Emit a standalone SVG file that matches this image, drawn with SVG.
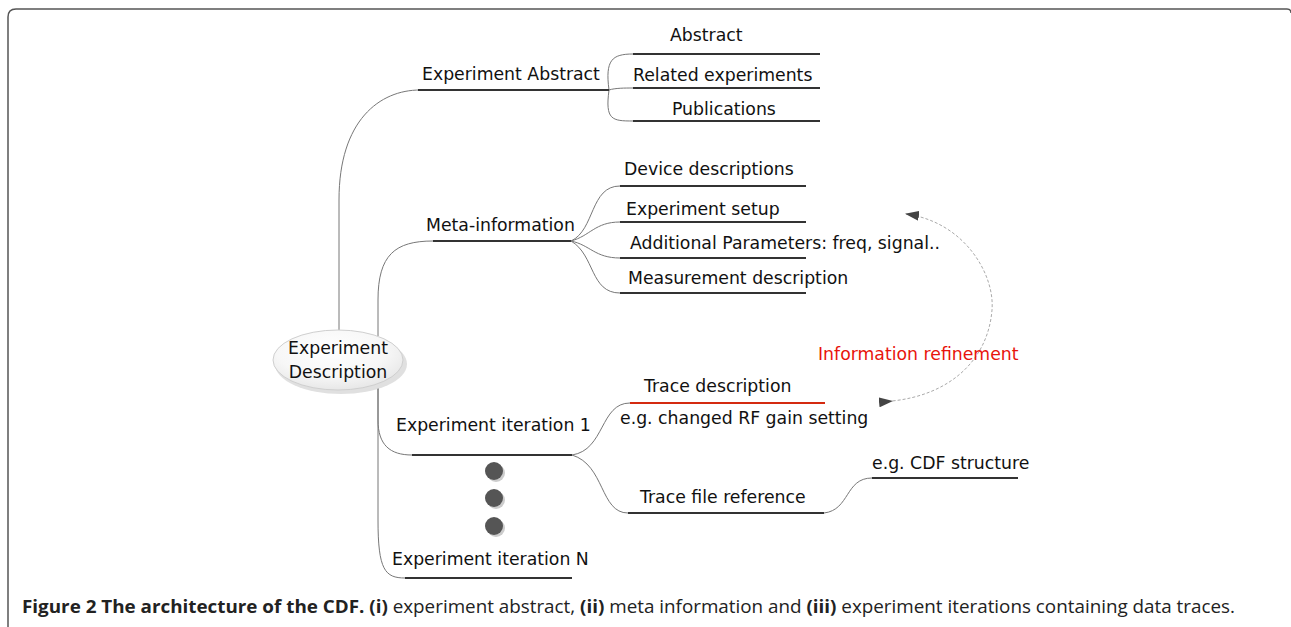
<svg xmlns="http://www.w3.org/2000/svg" width="1291" height="627" viewBox="0 0 1291 627">
<style>
.t{font-family:"DejaVu Sans",sans-serif;font-size:17.3px;fill:#111}
.u{stroke:#333;stroke-width:2;fill:none}
.c{stroke:#777;stroke-width:1;fill:none}
.cap{font-family:"Open Sans","Liberation Sans",sans-serif;font-size:18px;fill:#222}
</style>
<defs>
<radialGradient id="g" cx="0.45" cy="0.35" r="0.7">
<stop offset="0" stop-color="#ffffff"/>
<stop offset="0.6" stop-color="#f7f7f7"/>
<stop offset="1" stop-color="#e4e4e4"/>
</radialGradient>
<marker id="ah" markerWidth="14" markerHeight="10" refX="1" refY="5" orient="auto" markerUnits="userSpaceOnUse">
<path d="M0,5 L14,0 L14,10 Z" fill="#444"/>
</marker>
</defs>
<rect width="1291" height="627" fill="#fff"/>
<path d="M8,627 V17 Q8,9 16,9 H1287 Q1291,9 1291,13" fill="none" stroke="#555" stroke-width="1.5"/>

<g id="connectors">
<path class="c" d="M339,330 V200 C339,120 380,90 420,90"/>
<path class="c" d="M609,90 C605,60 612,54 633,54"/>
<path class="c" d="M609,90 C615,88 625,88 633,88"/>
<path class="c" d="M609,90 C605,120 612,121 633,121"/>
<path class="c" d="M378,336 V300 C378,255 395,241 433,241"/>
<path class="c" d="M571,241 C595,230 590,186 620,186"/>
<path class="c" d="M571,241 C590,236 595,222 620,222"/>
<path class="c" d="M571,241 C590,245 595,258 620,258"/>
<path class="c" d="M571,241 C595,255 590,293 620,293"/>
<path class="c" d="M378,388 V420 C378,445 390,455 412,455"/>
<path class="c" d="M378,388 V520 C378,570 385,578 405,578"/>
<path class="c" d="M572,455 C605,450 600,403 630,403"/>
<path class="c" d="M572,455 C605,465 600,513 628,513"/>
<path class="c" d="M824,513 C850,510 845,478 872,478"/>
<path d="M906,214 C965,222 995,275 992,310 C988,360 950,395 892,401" fill="none" stroke="#aaa" stroke-width="1" stroke-dasharray="3,2" marker-start="url(#ah)" marker-end="url(#ah)"/>
</g>

<g id="root">
<ellipse cx="341" cy="364" rx="66" ry="30" fill="#d8d8d8" opacity="0.8"/>
<ellipse cx="338" cy="360" rx="65" ry="30" fill="url(#g)" stroke="#cfcfcf" stroke-width="1"/>
<text class="t" x="338" y="354" text-anchor="middle">Experiment</text>
<text class="t" x="338" y="378" text-anchor="middle">Description</text>
</g>

<g id="n-abstract-group">
<text class="t" x="422" y="80">Experiment Abstract</text>
<line class="u" x1="418" y1="90" x2="609" y2="90"/>
</g>
<g id="n-abstract">
<text class="t" x="670" y="41">Abstract</text>
<line class="u" x1="633" y1="54" x2="820" y2="54"/>
</g>
<g id="n-related">
<text class="t" x="633" y="81">Related experiments</text>
<line class="u" x1="633" y1="88" x2="820" y2="88"/>
</g>
<g id="n-publications">
<text class="t" x="672" y="115">Publications</text>
<line class="u" x1="633" y1="121" x2="820" y2="121"/>
</g>

<g id="n-meta">
<text class="t" x="426" y="231">Meta-information</text>
<line class="u" x1="433" y1="241" x2="571" y2="241"/>
</g>
<g id="n-device">
<text class="t" x="624" y="175">Device descriptions</text>
<line class="u" x1="620" y1="186" x2="806" y2="186"/>
</g>
<g id="n-setup">
<text class="t" x="626" y="215">Experiment setup</text>
<line class="u" x1="620" y1="222" x2="806" y2="222"/>
</g>
<g id="n-params">
<text class="t" x="630" y="249">Additional Parameters: freq, signal..</text>
<line class="u" x1="620" y1="258" x2="806" y2="258"/>
</g>
<g id="n-measure">
<text class="t" x="628" y="284">Measurement description</text>
<line class="u" x1="620" y1="293" x2="806" y2="293"/>
</g>

<g id="n-iter1">
<text class="t" x="396" y="431">Experiment iteration 1</text>
<line class="u" x1="412" y1="455" x2="572" y2="455"/>
</g>
<g id="n-trace-desc">
<text class="t" x="644" y="392">Trace description</text>
<line x1="630" y1="403" x2="825" y2="403" stroke="#d42a10" stroke-width="2"/>
<text class="t" x="620" y="424">e.g. changed RF gain setting</text>
</g>
<g id="n-trace-file">
<text class="t" x="640" y="503">Trace file reference</text>
<line class="u" x1="628" y1="513" x2="824" y2="513"/>
</g>
<g id="n-cdf">
<text class="t" x="872" y="469">e.g. CDF structure</text>
<line class="u" x1="872" y1="478" x2="1018" y2="478"/>
</g>
<g id="dots">
<circle cx="496" cy="473" r="9" fill="#ccc"/>
<circle cx="496" cy="500" r="9" fill="#ccc"/>
<circle cx="496" cy="528" r="9" fill="#ccc"/>
<circle cx="494" cy="471" r="9" fill="#555"/>
<circle cx="494" cy="498" r="9" fill="#555"/>
<circle cx="494" cy="526" r="9" fill="#555"/>
</g>
<g id="n-iterN">
<text class="t" x="392" y="565">Experiment iteration N</text>
<line class="u" x1="405" y1="578" x2="572" y2="578"/>
</g>

<g id="refinement">
<text x="818" y="360" font-family="DejaVu Sans,sans-serif" font-size="17.3" fill="#e8140c">Information refinement</text>
</g>

<text class="cap" x="22" y="613" textLength="1213" lengthAdjust="spacingAndGlyphs"><tspan font-weight="bold">Figure 2 The architecture of the CDF. (i)</tspan> experiment abstract, <tspan font-weight="bold">(ii)</tspan> meta information and <tspan font-weight="bold">(iii)</tspan> experiment iterations containing data traces.</text>
</svg>
